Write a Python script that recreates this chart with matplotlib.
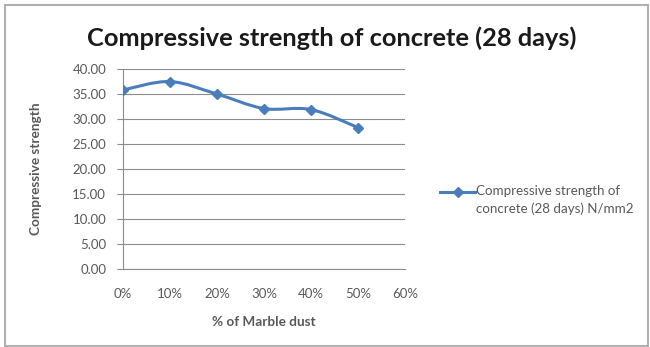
import numpy as np
import matplotlib
matplotlib.use("Agg")
from matplotlib import pyplot as plt
from matplotlib.path import Path
from matplotlib.patches import PathPatch, Rectangle
from matplotlib.lines import Line2D

# % de poudre de marbre et résistance à 28 jours (N/mm2)
marble_dust = [0, 10, 20, 30, 40, 50]
strength = [35.8, 37.5, 35.0, 32.1, 31.9, 28.3]
x_ticks = [0, 10, 20, 30, 40, 50, 60]
x_labels = ["0%", "10%", "20%", "30%", "40%", "50%", "60%"]
y_ticks = [0, 5, 10, 15, 20, 25, 30, 35, 40]

LINE_COLOR = "#4a7ebb"
TEXT_COLOR = "#595959"
GRID_COLOR = "#8c8c8c"


def smooth_path(xs, ys):
    """Courbe de Bézier passant par les points (lissage façon tableur)."""
    pts = np.column_stack([xs, ys]).astype(float)
    ext = np.vstack([pts[0], pts, pts[-1]])
    verts = [pts[0]]
    codes = [Path.MOVETO]
    for i in range(len(pts) - 1):
        p0, p1, p2, p3 = ext[i], ext[i + 1], ext[i + 2], ext[i + 3]
        c1 = p1 + (p2 - p0) / 6
        c2 = p2 - (p3 - p1) / 6
        verts += [c1, c2, p2]
        codes += [Path.CURVE4] * 3
    return Path(verts, codes)


plt.rcParams["font.family"] = ["Lato", "DejaVu Sans"]

fig = plt.figure(figsize=(6.5, 3.47), dpi=100)
ax = fig.add_axes([0.189, 0.225, 0.434, 0.576])

ax.add_patch(PathPatch(smooth_path(marble_dust, strength), fill=False,
                       edgecolor=LINE_COLOR, linewidth=2.2, zorder=3))
ax.plot(marble_dust, strength, linestyle="none", marker="D", markersize=5,
        color=LINE_COLOR, zorder=4)

ax.set_xlim(0, 60)
ax.set_ylim(0, 40)
ax.set_xticks(x_ticks)
ax.set_xticklabels(x_labels)
ax.set_yticks(y_ticks)
ax.set_yticklabels([f"{v:.2f}" for v in y_ticks])
ax.grid(axis="y", color=GRID_COLOR, linewidth=0.8)
ax.set_axisbelow(True)
for side in ["top", "right"]:
    ax.spines[side].set_visible(False)
for side in ["left", "bottom"]:
    ax.spines[side].set_color(GRID_COLOR)
    ax.spines[side].set_linewidth(0.8)
ax.tick_params(axis="y", length=4, color=GRID_COLOR, pad=8,
               labelsize=9.5, labelcolor=TEXT_COLOR)
ax.tick_params(axis="x", length=0, pad=14, labelsize=9.5,
               labelcolor=TEXT_COLOR)

ax.set_xlabel("% of Marble dust", fontsize=9.8, fontweight="bold",
              color=TEXT_COLOR, labelpad=11)
ax.set_ylabel("Compressive strength", fontsize=9.8, fontweight="bold",
              color=TEXT_COLOR, labelpad=22)

fig.text(0.511, 0.89, "Compressive strength of concrete (28 days)",
         ha="center", va="center", fontsize=18.3, fontweight="bold",
         color="#1a1a1a")

# légende
fig.add_artist(Line2D([0.677, 0.731], [0.446, 0.446], color=LINE_COLOR,
                      linewidth=2.2, transform=fig.transFigure))
fig.add_artist(Line2D([0.704], [0.446], color=LINE_COLOR, marker="D",
                      markersize=5, transform=fig.transFigure))
fig.text(0.732, 0.468, "Compressive strength of\nconcrete (28 days) N/mm2",
         ha="left", va="top", fontsize=9.6, color=TEXT_COLOR,
         linespacing=1.6)

fig.add_artist(Rectangle((0.007, 0.003), 0.99, 0.982, fill=False,
                         edgecolor="#b0b0b0", linewidth=1.5,
                         transform=fig.transFigure))

fig.savefig("out.png", dpi=100)
